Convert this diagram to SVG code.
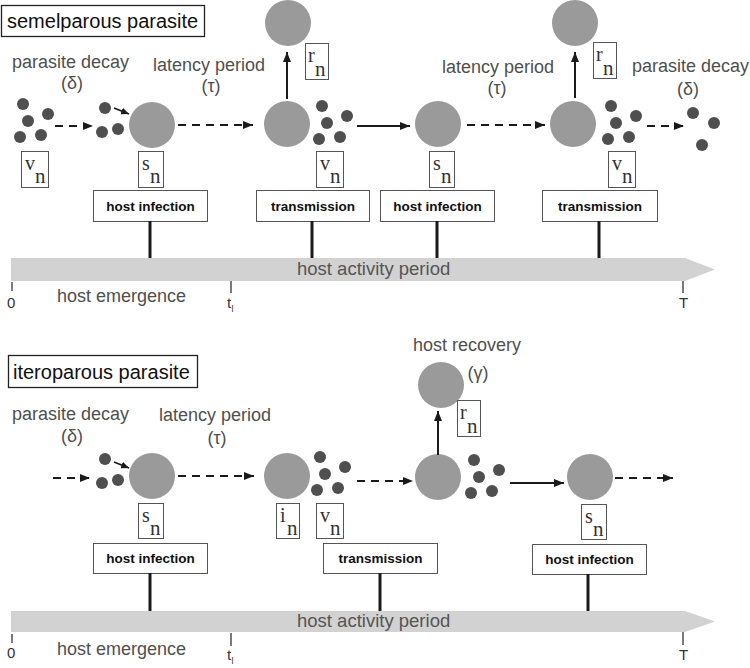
<svg xmlns="http://www.w3.org/2000/svg" width="750" height="668" viewBox="0 0 750 668">
<style>
  .title{font-family:"Liberation Sans",Arial,sans-serif;font-size:20px;fill:#111}
  .tbox{fill:#fff;stroke:#222;stroke-width:1.3}
  .lab{font-family:"Liberation Sans",Arial,sans-serif;font-size:18px;fill:#4f4f4f}
  .mid{text-anchor:middle}
  .host{fill:#9a9a9a}
  .par{fill:#4f4f4f}
  .lbl{fill:#fff;stroke:#555;stroke-width:1}
  .ser{font-family:"Liberation Serif","Times New Roman",serif;font-size:20px;fill:#333}
  .sub{font-family:"Liberation Serif","Times New Roman",serif;font-size:21px;fill:#333}
  .ebox{fill:#fff;stroke:#555;stroke-width:1}
  .etxt{font-family:"Liberation Sans",Arial,sans-serif;font-size:13.5px;font-weight:bold;fill:#111;text-anchor:middle}
  .bar{fill:#d2d2d2}
  .bartxt{font-family:"Liberation Sans",Arial,sans-serif;font-size:18.5px;fill:#555}
  .tick{stroke:#333;stroke-width:1.3}
  .tlab{font-family:"Liberation Sans",Arial,sans-serif;font-size:15px;fill:#333}
  .tsub{font-family:"Liberation Sans",Arial,sans-serif;font-size:9px;fill:#333}
  .em{font-family:"Liberation Sans",Arial,sans-serif;font-size:18px;fill:#4f4f4f}
  .arr{stroke:#1a1a1a;stroke-width:2;fill:none;marker-end:url(#ah)}
  .dash{stroke-dasharray:8 6}
  .small{stroke-width:1.6;marker-end:url(#ahs)}
  .stem{stroke:#1a1a1a;stroke-width:3}
</style>
<defs>
  <marker id="ah" markerUnits="userSpaceOnUse" markerWidth="10" markerHeight="8" refX="10" refY="4" orient="auto">
    <path d="M0,0 L10,4 L0,8 z" fill="#1a1a1a"/>
  </marker>
  <marker id="ahs" markerUnits="userSpaceOnUse" markerWidth="8" markerHeight="7" refX="8" refY="3.5" orient="auto">
    <path d="M0,0 L8,3.5 L0,7 z" fill="#1a1a1a"/>
  </marker>
  <g id="five">
    <circle cx="0" cy="0" r="6"/>
    <circle cx="25" cy="10" r="6"/>
    <circle cx="5" cy="17" r="6"/>
    <circle cx="-3" cy="33" r="6"/>
    <circle cx="18" cy="31" r="6"/>
  </g>
  <g id="three">
    <circle cx="105" cy="0" r="6"/>
    <circle cx="102" cy="24" r="6"/>
    <circle cx="118" cy="21" r="6"/>
  </g>
</defs>

<!-- ============ TOP: semelparous ============ -->
<g id="title-semel">
  <rect class="tbox" x="1.5" y="5.5" width="203" height="31"/>
  <text class="title" x="7" y="28">semelparous parasite</text>
</g>

<g id="top-labels">
  <text class="lab" x="12" y="68">parasite decay</text>
  <text class="lab mid" x="72" y="89">(δ)</text>
  <text class="lab" x="153" y="71">latency period</text>
  <text class="lab mid" x="211" y="92">(τ)</text>
  <text class="lab" x="442" y="73">latency period</text>
  <text class="lab mid" x="497" y="94">(τ)</text>
  <text class="lab" x="632" y="72">parasite decay</text>
  <text class="lab mid" x="688" y="95">(δ)</text>
</g>

<g id="t-dots-v1" class="par"><use href="#five" x="23" y="104"/></g>
<g id="t-dots-inf1" class="par"><use href="#three" x="0" y="108"/></g>
<g id="t-host-s1"><circle class="host" cx="152" cy="125" r="23"/></g>
<g id="t-host-i1"><circle class="host" cx="287" cy="124" r="23"/></g>
<g id="t-host-r1"><circle class="host" cx="288" cy="23" r="23"/></g>
<g id="t-dots-v2" class="par"><use href="#five" x="322" y="106"/></g>
<g id="t-host-s2"><circle class="host" cx="438" cy="124" r="23"/></g>
<g id="t-host-i2"><circle class="host" cx="573" cy="124" r="23"/></g>
<g id="t-host-r2"><circle class="host" cx="575" cy="23" r="23"/></g>
<g id="t-dots-v3" class="par"><use href="#five" x="611" y="106"/></g>
<g id="t-dots-decay" class="par">
  <circle cx="693" cy="113" r="6"/>
  <circle cx="714" cy="123" r="6"/>
  <circle cx="702" cy="145" r="6"/>
</g>

<g id="t-lbl-v1"><rect class="lbl" x="21.5" y="151.5" width="27" height="36"/><text class="ser" x="25" y="170">v</text><text class="sub" x="35" y="183">n</text></g>
<g id="t-lbl-s1"><rect class="lbl" x="138.5" y="151.5" width="25" height="36"/><text class="ser" x="142" y="170">s</text><text class="sub" x="150" y="183">n</text></g>
<g id="t-lbl-r1"><rect class="lbl" x="305.5" y="43.5" width="23" height="36"/><text class="ser" x="308" y="62">r</text><text class="sub" x="315" y="76">n</text></g>
<g id="t-lbl-v2"><rect class="lbl" x="316.5" y="151.5" width="27" height="36"/><text class="ser" x="320" y="170">v</text><text class="sub" x="330" y="183">n</text></g>
<g id="t-lbl-s2"><rect class="lbl" x="429.5" y="151.5" width="25" height="36"/><text class="ser" x="433" y="170">s</text><text class="sub" x="441" y="183">n</text></g>
<g id="t-lbl-r2"><rect class="lbl" x="593.5" y="42.5" width="23" height="36"/><text class="ser" x="596" y="61">r</text><text class="sub" x="603" y="75">n</text></g>
<g id="t-lbl-v3"><rect class="lbl" x="608.5" y="151.5" width="27" height="36"/><text class="ser" x="612" y="170">v</text><text class="sub" x="622" y="183">n</text></g>

<g id="t-ev-inf1"><rect class="ebox" x="93.5" y="190.5" width="114" height="31"/><text class="etxt" x="150.5" y="210.5">host infection</text></g>
<g id="t-ev-tr1"><rect class="ebox" x="256.5" y="190.5" width="113" height="31"/><text class="etxt" x="313" y="210.5">transmission</text></g>
<g id="t-ev-inf2"><rect class="ebox" x="380.5" y="190.5" width="114" height="31"/><text class="etxt" x="437.5" y="210.5">host infection</text></g>
<g id="t-ev-tr2"><rect class="ebox" x="542.5" y="190.5" width="115" height="31"/><text class="etxt" x="600" y="210.5">transmission</text></g>

<g id="t-timeline">
  <polygon class="bar" points="11,258 685,258 715,269.5 685,281 11,281"/>
  <text class="bartxt" x="297" y="275">host activity period</text>
  <line class="tick" x1="12" y1="282" x2="12" y2="291"/>
  <text class="tlab" x="7" y="308">0</text>
  <text class="em" x="57" y="302">host emergence</text>
  <line class="tick" x1="231" y1="281" x2="231" y2="293"/>
  <text class="tlab" x="227" y="308">t</text><text class="tsub" x="231.5" y="312">l</text>
  <line class="tick" x1="683" y1="281" x2="683" y2="293"/>
  <text class="tlab" x="679" y="308">T</text>
</g>

<!-- ============ BOTTOM: iteroparous ============ -->
<g id="title-itero">
  <rect class="tbox" x="8.5" y="355.5" width="189" height="32"/>
  <text class="title" x="13" y="379">iteroparous parasite</text>
</g>

<g id="bottom-labels">
  <text class="lab" x="12" y="420">parasite decay</text>
  <text class="lab mid" x="72" y="442">(δ)</text>
  <text class="lab" x="159" y="421">latency period</text>
  <text class="lab mid" x="217" y="444">(τ)</text>
  <text class="lab" x="413" y="351">host recovery</text>
  <text class="lab mid" x="478" y="379">(γ)</text>
</g>

<g id="b-dots-inf1" class="par"><use href="#three" x="0" y="459"/></g>
<g id="b-host-s1"><circle class="host" cx="152" cy="476" r="23"/></g>
<g id="b-host-i1"><circle class="host" cx="287" cy="476" r="23"/></g>
<g id="b-dots-v1" class="par"><use href="#five" x="320" y="457"/></g>
<g id="b-host-i2"><circle class="host" cx="438" cy="477" r="23"/></g>
<g id="b-host-r"><circle class="host" cx="441" cy="385" r="23"/></g>
<g id="b-dots-v2" class="par"><use href="#five" x="474" y="460"/></g>
<g id="b-host-s2"><circle class="host" cx="590" cy="477" r="23"/></g>

<g id="b-lbl-s1"><rect class="lbl" x="138.5" y="503.5" width="25" height="35"/><text class="ser" x="142" y="522">s</text><text class="sub" x="150" y="535">n</text></g>
<g id="b-lbl-i1"><rect class="lbl" x="276.5" y="503.5" width="23" height="35"/><text class="ser" x="280" y="522">i</text><text class="sub" x="287" y="535">n</text></g>
<g id="b-lbl-v1"><rect class="lbl" x="316.5" y="503.5" width="27" height="35"/><text class="ser" x="320" y="522">v</text><text class="sub" x="330" y="535">n</text></g>
<g id="b-lbl-r"><rect class="lbl" x="457.5" y="400.5" width="23" height="36"/><text class="ser" x="460" y="419">r</text><text class="sub" x="467" y="433">n</text></g>
<g id="b-lbl-s2"><rect class="lbl" x="581.5" y="504.5" width="25" height="35"/><text class="ser" x="585" y="523">s</text><text class="sub" x="593" y="536">n</text></g>

<g id="b-ev-inf1"><rect class="ebox" x="93.5" y="543.5" width="114" height="30"/><text class="etxt" x="150.5" y="563">host infection</text></g>
<g id="b-ev-tr"><rect class="ebox" x="323.5" y="543.5" width="114" height="30"/><text class="etxt" x="380.5" y="563">transmission</text></g>
<g id="b-ev-inf2"><rect class="ebox" x="532.5" y="544.5" width="114" height="30"/><text class="etxt" x="589.5" y="564">host infection</text></g>

<g id="b-timeline">
  <polygon class="bar" points="11,611 685,611 715,621.5 685,632 11,632"/>
  <text class="bartxt" x="297" y="627">host activity period</text>
  <line class="tick" x1="12" y1="634" x2="12" y2="643"/>
  <text class="tlab" x="7" y="658">0</text>
  <text class="em" x="57" y="655">host emergence</text>
  <line class="tick" x1="231" y1="633" x2="231" y2="646"/>
  <text class="tlab" x="227" y="660">t</text><text class="tsub" x="231.5" y="664">l</text>
  <line class="tick" x1="683" y1="632" x2="683" y2="645"/>
  <text class="tlab" x="679" y="660">T</text>
</g>

<!-- ============ CONNECTORS ============ -->
<g id="connectors">
  <line class="arr dash" x1="55" y1="126" x2="93" y2="126"/>
  <line class="arr small" x1="114" y1="108" x2="129" y2="114"/>
  <line class="arr dash" x1="178" y1="125" x2="253" y2="125"/>
  <line class="arr" x1="287" y1="99" x2="287" y2="52"/>
  <line class="arr" x1="357" y1="126" x2="410" y2="126"/>
  <line class="arr dash" x1="467" y1="125" x2="545" y2="125"/>
  <line class="arr" x1="575" y1="98" x2="575" y2="52"/>
  <line class="arr dash" x1="647" y1="126" x2="684" y2="126"/>

  <line class="stem" x1="150" y1="221" x2="150" y2="258"/>
  <line class="stem" x1="312" y1="221" x2="312" y2="258"/>
  <line class="stem" x1="437" y1="221" x2="437" y2="258"/>
  <line class="stem" x1="599" y1="221" x2="599" y2="258"/>

  <line class="arr dash" x1="53" y1="478" x2="90" y2="478"/>
  <line class="arr small" x1="114" y1="462" x2="129" y2="468"/>
  <line class="arr dash" x1="178" y1="476" x2="254" y2="476"/>
  <line class="arr dash" x1="357" y1="481" x2="413" y2="481"/>
  <line class="arr" x1="438" y1="455" x2="438" y2="411"/>
  <line class="arr" x1="510" y1="483" x2="564" y2="483"/>
  <line class="arr dash" x1="615" y1="478" x2="673" y2="478"/>

  <line class="stem" x1="150" y1="573" x2="150" y2="611"/>
  <line class="stem" x1="380" y1="573" x2="380" y2="611"/>
  <line class="stem" x1="588" y1="574" x2="588" y2="611"/>
</g>
</svg>
